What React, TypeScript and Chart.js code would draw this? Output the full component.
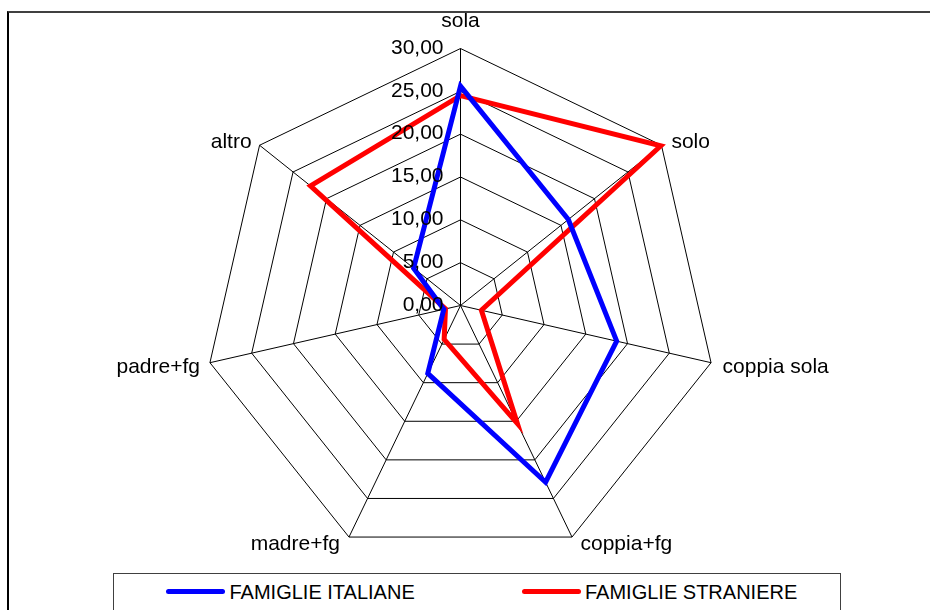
import React, { useEffect, useRef } from "react";
import { Chart, registerables } from "chart.js";

Chart.register(...registerables);

const categories = ["sola", "solo", "coppia sola", "coppia+fg", "madre+fg", "padre+fg", "altro"];
const italiane = [25.6, 16.1, 18.7, 22.9, 8.8, 2.0, 7.0];
const straniere = [24.5, 29.9, 2.5, 15.3, 4.4, 1.8, 22.4];
const tickValues = [0, 5, 10, 15, 20, 25, 30];
const tickLabels = ["0,00", "5,00", "10,00", "15,00", "20,00", "25,00", "30,00"];
const seriesNames = ["FAMIGLIE ITALIANE", "FAMIGLIE STRANIERE"];
const seriesColors = ["#0000FF", "#FF0000"];

const FONT = "'Liberation Sans', Arial, sans-serif";

// label placement relative to outer vertex
const labelPlacement: { dx: number; dy: number; align: CanvasTextAlign }[] = [
  { dx: 0, dy: -22, align: "center" },
  { dx: 10, dy: 3, align: "left" },
  { dx: 11.5, dy: 10.6, align: "left" },
  { dx: 8.5, dy: 13.4, align: "left" },
  { dx: -9, dy: 13.4, align: "right" },
  { dx: -10, dy: 10.6, align: "right" },
  { dx: -8, dy: 2.7, align: "right" },
];

const shiftPlugin = {
  id: "halfPixel",
  beforeDraw(chart: any) {
    chart.ctx.save();
    chart.ctx.translate(0.5, 0.5);
  },
  afterDraw(chart: any) {
    const ctx = chart.ctx as CanvasRenderingContext2D;
    const r = chart.scales.r;
    ctx.fillStyle = "#000";
    ctx.font = `21px ${FONT}`;
    ctx.textBaseline = "alphabetic";
    categories.forEach((c, i) => {
      const p = r.getPointPosition(i, r.drawingArea);
      const pl = labelPlacement[i];
      ctx.textAlign = pl.align;
      ctx.fillText(c, p.x + pl.dx, p.y + pl.dy);
    });
    ctx.textAlign = "right";
    ctx.textBaseline = "middle";
    tickValues.forEach((v, i) => {
      const y = r.yCenter - r.getDistanceFromCenterForValue(v);
      ctx.fillText(tickLabels[i], r.xCenter - 17, y - 0.5);
    });
    ctx.restore();
  },
};

export default function App() {
  const ref = useRef<HTMLCanvasElement>(null);
  useEffect(() => {
    if (!ref.current) return;
    const chart = new Chart(ref.current, {
      type: "radar",
      data: {
        labels: categories,
        datasets: [
          {
            label: seriesNames[0],
            data: italiane,
            borderColor: seriesColors[0],
            backgroundColor: seriesColors[0],
            fill: false,
          },
          {
            label: seriesNames[1],
            data: straniere,
            borderColor: seriesColors[1],
            backgroundColor: seriesColors[1],
            fill: false,
          },
        ],
      },
      options: {
        animation: false,
        responsive: false,
        events: [],
        layout: { padding: { left: 0, right: 10, top: 48, bottom: 48 } },
        plugins: { legend: { display: false }, tooltip: { enabled: false } },
        scales: {
          r: {
            min: 0,
            max: 30,
            ticks: { display: false, stepSize: 5 },
            grid: { color: "#000", lineWidth: 1 },
            angleLines: { color: "#000", lineWidth: 1 },
            pointLabels: { display: false },
          },
        },
        elements: {
          line: { borderWidth: 5, tension: 0, borderJoinStyle: "miter" },
          point: { radius: 0, hoverRadius: 0 },
        },
      },
      plugins: [shiftPlugin],
    } as any);
    return () => chart.destroy();
  }, []);

  const legendItems = [
    { name: seriesNames[0], color: seriesColors[0], lineX: 166, textX: 229.5 },
    { name: seriesNames[1], color: seriesColors[1], lineX: 522, textX: 585 },
  ];

  return (
    <div style={{ position: "absolute", left: 0, top: 0, width: 930, height: 610, overflow: "hidden", background: "#fff" }}>
      <canvas ref={ref} width={930} height={610} style={{ position: "absolute", left: 0, top: 0 }} />
      <div
        style={{
          position: "absolute",
          left: 7,
          top: 11,
          width: 960,
          height: 640,
          borderTop: "2px solid #404040",
          borderLeft: "2px solid #000",
          boxSizing: "border-box",
        }}
      />
      <div
        style={{
          position: "absolute",
          left: 113,
          top: 573,
          width: 728,
          height: 60,
          border: "1px solid #404040",
          boxSizing: "border-box",
          background: "#fff",
        }}
      />
      {legendItems.map((it) => (
        <React.Fragment key={it.name}>
          <div
            style={{
              position: "absolute",
              left: it.lineX,
              top: 588.5,
              width: 59,
              height: 5.5,
              borderRadius: 3,
              background: it.color,
            }}
          />
          <div
            style={{
              position: "absolute",
              left: it.textX,
              top: 582,
              font: `20px ${FONT}`,
              lineHeight: "20px",
              color: "#000",
              whiteSpace: "nowrap",
            }}
          >
            {it.name}
          </div>
        </React.Fragment>
      ))}
    </div>
  );
}
